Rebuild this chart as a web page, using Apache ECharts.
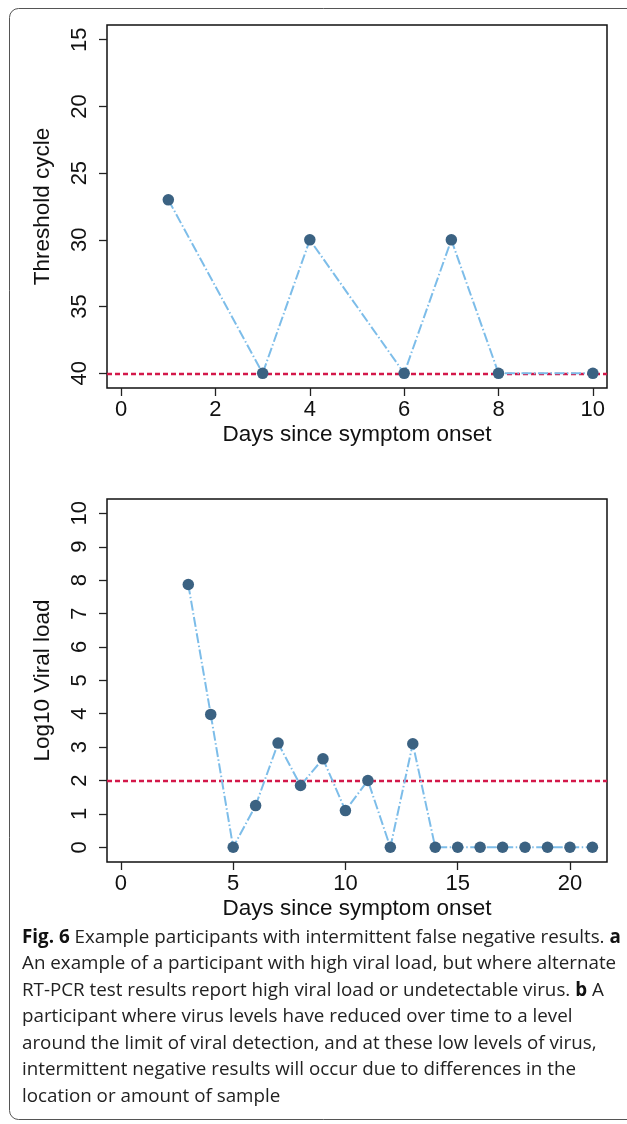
<!DOCTYPE html>
<html><head><meta charset="utf-8">
<script src="https://cdn.jsdelivr.net/npm/echarts@6/dist/echarts.min.js"></script>
<style>html,body{margin:0;padding:0;background:#fff}#c{width:627px;height:1124px}</style>
</head><body><div id="c"></div>
<script>
// Panel a
const daysA = [1, 3, 4, 6, 7, 8, 10];
const ctA = [27, 40, 30, 40, 30, 40, 40];
const ctThreshold = 40;
const xTicksA = [0, 2, 4, 6, 8, 10];
const yTicksA = [15, 20, 25, 30, 35, 40];
// Panel b
const daysB = [3, 4, 5, 6, 7, 8, 9, 10, 11, 12, 13, 14, 15, 16, 17, 18, 19, 20, 21];
const vlB = [7.87, 3.98, 0, 1.25, 3.12, 1.85, 2.65, 1.1, 2.0, 0, 3.1, 0, 0, 0, 0, 0, 0, 0, 0];
const vlThreshold = 2;
const xTicksB = [0, 5, 10, 15, 20];
const yTicksB = [0, 1, 2, 3, 4, 5, 6, 7, 8, 9, 10];
const captionLines = [
  [['b','Fig. 6'],['n',' Example participants with intermittent false negative results. '],['b','a']],
  [['n','An example of a participant with high viral load, but where alternate']],
  [['n','RT-PCR test results report high viral load or undetectable virus. '],['b','b'],['n',' A']],
  [['n','participant where virus levels have reduced over time to a level']],
  [['n','around the limit of viral detection, and at these low levels of virus,']],
  [['n','intermittent negative results will occur due to differences in the']],
  [['n','location or amount of sample']]
];

const FONT = 'Liberation Sans';
const TXT = '#111';
const ptColor = '#3b6282';
const lnColor = '#7dbde9';
const redColor = '#d3184a';

function xAxisCfg(idx, min, max, ticks) {
  return {
    type: 'value', gridIndex: idx, min: min, max: max,
    name: 'Days since symptom onset', nameLocation: 'middle', nameGap: 35,
    nameTextStyle: {fontFamily: FONT, fontSize: 22.5, color: TXT},
    axisLine: {show: false, onZero: false},
    axisTick: {show: true, inside: false, length: 8, customValues: ticks, lineStyle: {color: '#222', width: 1.3}},
    axisLabel: {show: true, margin: 11, customValues: ticks, fontFamily: FONT, fontSize: 22, color: TXT},
    splitLine: {show: false}
  };
}
function yAxisCfg(idx, min, max, ticks, name, inverse) {
  return {
    type: 'value', gridIndex: idx, min: min, max: max, inverse: inverse,
    name: name, nameLocation: 'middle', nameGap: 53, nameRotate: 90,
    nameTextStyle: {fontFamily: FONT, fontSize: 22.5, color: TXT},
    axisLine: {show: false, onZero: false},
    axisTick: {show: true, inside: false, length: 8, customValues: ticks, lineStyle: {color: '#222', width: 1.3}},
    axisLabel: {show: true, rotate: 90, margin: 16, customValues: ticks, fontFamily: FONT, fontSize: 22, color: TXT},
    splitLine: {show: false}
  };
}
function seriesCfg(idx, xs, ys, thr) {
  return {
    type: 'line', xAxisIndex: idx, yAxisIndex: idx,
    data: xs.map((d, i) => [d, ys[i]]),
    symbol: 'circle', symbolSize: 11.5, showAllSymbol: true,
    itemStyle: {color: ptColor},
    lineStyle: {color: lnColor, width: 2, type: [10, 2.5, 1.5, 2.5]},
    z: 3,
    markLine: {
      silent: true, symbol: 'none', label: {show: false}, z: 2,
      lineStyle: {color: redColor, width: 2.3, type: [5, 3]},
      emphasis: {disabled: true},
      data: [{yAxis: thr}]
    }
  };
}

const graphics = [{
  type: 'rect', shape: {x: 9.5, y: 8.5, width: 700, height: 1111, r: 9},
  style: {fill: 'none', stroke: '#555', lineWidth: 1}, z: -10
}];
captionLines.forEach((line, i) => {
  graphics.push({
    type: 'text', left: 22, top: 928 + i * 26.5,
    style: {
      text: line.map(p => '{' + p[0] + '|' + p[1] + '}').join(''),
      rich: {
        b: {fontFamily: 'Open Sans', fontWeight: 'bold', fontSize: 18.8, fill: '#111'},
        n: {fontFamily: 'Open Sans', fontSize: 18.8, fill: '#222'}
      }
    }
  });
});

const chart = echarts.init(document.getElementById('c'), null, {renderer: 'canvas'});
chart.setOption({
  animation: false,
  backgroundColor: '#fff',
  grid: [
    {left: 107, top: 25, width: 500, height: 363, show: true, borderColor: '#111', borderWidth: 1.5, backgroundColor: 'transparent'},
    {left: 107, top: 499, width: 500, height: 363, show: true, borderColor: '#111', borderWidth: 1.5, backgroundColor: 'transparent'}
  ],
  xAxis: [xAxisCfg(0, -0.3, 10.3, xTicksA), xAxisCfg(1, -0.62, 21.65, xTicksB)],
  yAxis: [yAxisCfg(0, 13.9, 41.1, yTicksA, 'Threshold cycle', true), yAxisCfg(1, -0.44, 10.43, yTicksB, 'Log10 Viral load', false)],
  series: [seriesCfg(0, daysA, ctA, ctThreshold), seriesCfg(1, daysB, vlB, vlThreshold)],
  graphic: graphics
});
</script></body></html>
